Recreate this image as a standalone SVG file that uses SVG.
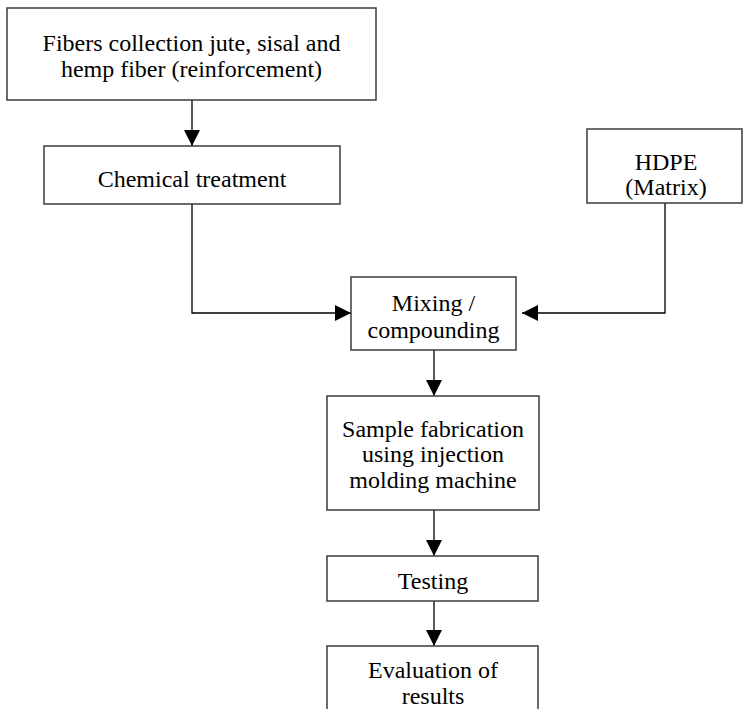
<svg xmlns="http://www.w3.org/2000/svg" width="744" height="709" viewBox="0 0 744 709">
<style>
.box{fill:#fff;stroke:#3c3c3c;stroke-width:1.5}
.t{font-family:"Liberation Serif","Times New Roman",serif;font-size:24px;fill:#000;text-anchor:middle}
.c{fill:none;stroke:#000;stroke-width:1.3}
</style>
<defs>
<marker id="ah" markerUnits="userSpaceOnUse" markerWidth="16" markerHeight="16" viewBox="0 0 16 16" refX="16" refY="8" orient="auto">
<path d="M0,0 L16,8 L0,16 Z" fill="#000"/>
</marker>
</defs>
<rect width="744" height="709" fill="#fff"/>
<g id="connectors">
<path class="c" d="M192,100 V146" marker-end="url(#ah)"/>
<path class="c" d="M192,204 V313 H351" marker-end="url(#ah)"/>
<path class="c" d="M665,203 V313 H522" marker-end="url(#ah)"/>
<path class="c" d="M434,350 V396" marker-end="url(#ah)"/>
<path class="c" d="M434,510 V556" marker-end="url(#ah)"/>
<path class="c" d="M434,601 V646" marker-end="url(#ah)"/>
</g>
<g id="fibers">
<rect class="box" x="7" y="8" width="369" height="92"/>
<text class="t" x="191.5" y="51">Fibers collection jute, sisal and</text>
<text class="t" x="191.5" y="77">hemp fiber (reinforcement)</text>
</g>
<g id="chemical">
<rect class="box" x="44" y="146" width="296" height="58"/>
<text class="t" x="192" y="187">Chemical treatment</text>
</g>
<g id="hdpe">
<rect class="box" x="587" y="129" width="155" height="74"/>
<text class="t" x="666" y="170">HDPE</text>
<text class="t" x="666" y="195">(Matrix)</text>
</g>
<g id="mixing">
<rect class="box" x="351" y="277" width="165" height="73"/>
<text class="t" x="433.5" y="311">Mixing /</text>
<text class="t" x="433.5" y="338">compounding</text>
</g>
<g id="sample">
<rect class="box" x="327" y="396" width="212" height="114"/>
<text class="t" x="433" y="437">Sample fabrication</text>
<text class="t" x="433" y="462">using injection</text>
<text class="t" x="433" y="488">molding machine</text>
</g>
<g id="testing">
<rect class="box" x="327" y="556" width="211" height="45"/>
<text class="t" x="433" y="589">Testing</text>
</g>
<g id="evaluation">
<rect class="box" x="327" y="646" width="211" height="75"/>
<text class="t" x="433" y="678">Evaluation of</text>
<text class="t" x="433" y="704">results</text>
</g>
</svg>
